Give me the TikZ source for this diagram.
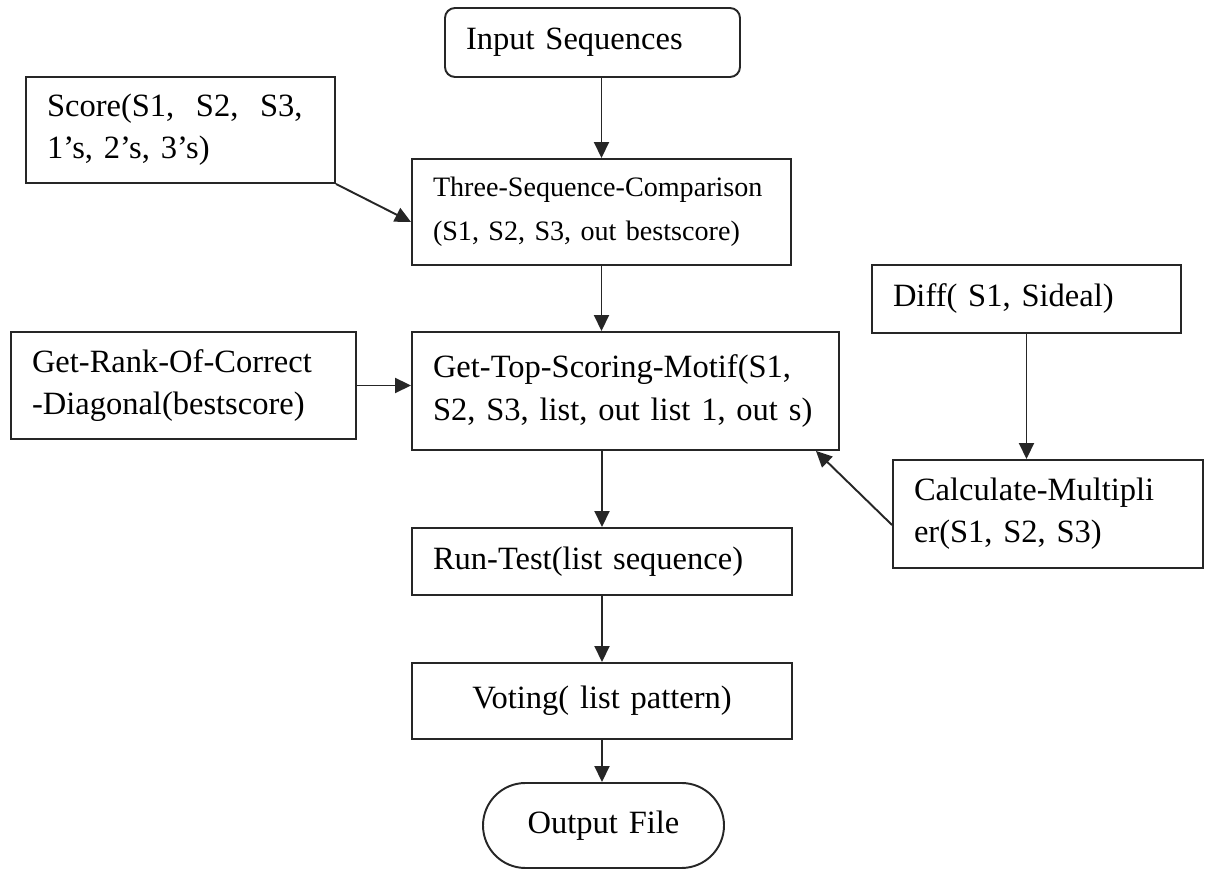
\documentclass[tikz,border=0pt]{standalone}
\usepackage{fontspec}
\setmainfont{Liberation Serif}
\usetikzlibrary{arrows.meta}

\begin{document}
\begin{tikzpicture}[
    box/.style={draw=black!85, line width=1.1pt, inner xsep=0.42cm, inner ysep=0pt, align=left, font=\fontsize{18.5}{24}\selectfont},
    arr/.style={draw=black!85, line width=1.1pt, -{Triangle[length=0.32cm,width=0.3cm]}}
    ]
    \useasboundingbox (0,0) rectangle (24.24,17.38);
    \node[box, rounded corners=0.2cm, text width=5.06cm, minimum height=1.38cm] (inp) at (11.85,16.53) {Input Sequences};
    \node[box, text width=5.34cm, minimum height=2.12cm] (scr) at (3.61,14.78) {Score(S1,\ \ S2,\ \ S3,\\1's, 2's, 3's)};
    \node[box, text width=6.74cm, minimum height=2.12cm, font=\fontsize{16}{25}\selectfont] (tsc) at (12.03,13.14) {Three-Sequence-Comparison\\(S1, S2, S3, out bestscore)};
    \node[box, text width=5.34cm, minimum height=1.36cm] (dif) at (20.53,11.40) {Diff( S1, Sideal)};
    \node[box, text width=6.06cm, minimum height=2.14cm] (rnk) at (3.67,9.67) {Get-Rank-Of-Correct\\-Diagonal(bestscore)};
    \node[box, text width=7.70cm, minimum height=2.36cm] (top) at (12.51,9.56) {Get-Top-Scoring-Motif(S1,\\S2, S3, list, out list 1, out s)};
    \node[box, text width=5.36cm, minimum height=2.16cm] (clc) at (20.96,7.10) {Calculate-Multipli\\er(S1, S2, S3)};
    \node[box, text width=6.76cm, minimum height=1.34cm] (run) at (12.04,6.15) {Run-Test(list sequence)};
    \node[box, text width=6.76cm, minimum height=1.52cm, align=center] (vot) at (12.04,3.36) {Voting( list pattern)};
    \node[box, rounded corners=0.85cm, text width=3.98cm, minimum height=1.70cm, align=center] (out) at (12.07,0.87) {Output File};
    \draw[arr] (inp.south -| tsc.north) -- (tsc.north);
    \draw[arr] (scr.south east) -- ([yshift=-0.2cm]tsc.west);
    \draw[arr] (tsc.south) -- (tsc.south |- top.north);
    \draw[arr] (rnk.east) -- (rnk.east -| top.west);
    \draw[arr] (dif.south) -- (dif.south |- clc.north);
    \draw[arr] ([yshift=-0.22cm]clc.west) -- ([xshift=-0.48cm]top.south east);
    \draw[arr] (run.north |- top.south) -- (run.north);
    \draw[arr] (run.south) -- (vot.north);
    \draw[arr] (vot.south) -- (vot.south |- out.north);
\end{tikzpicture}
\end{document}
